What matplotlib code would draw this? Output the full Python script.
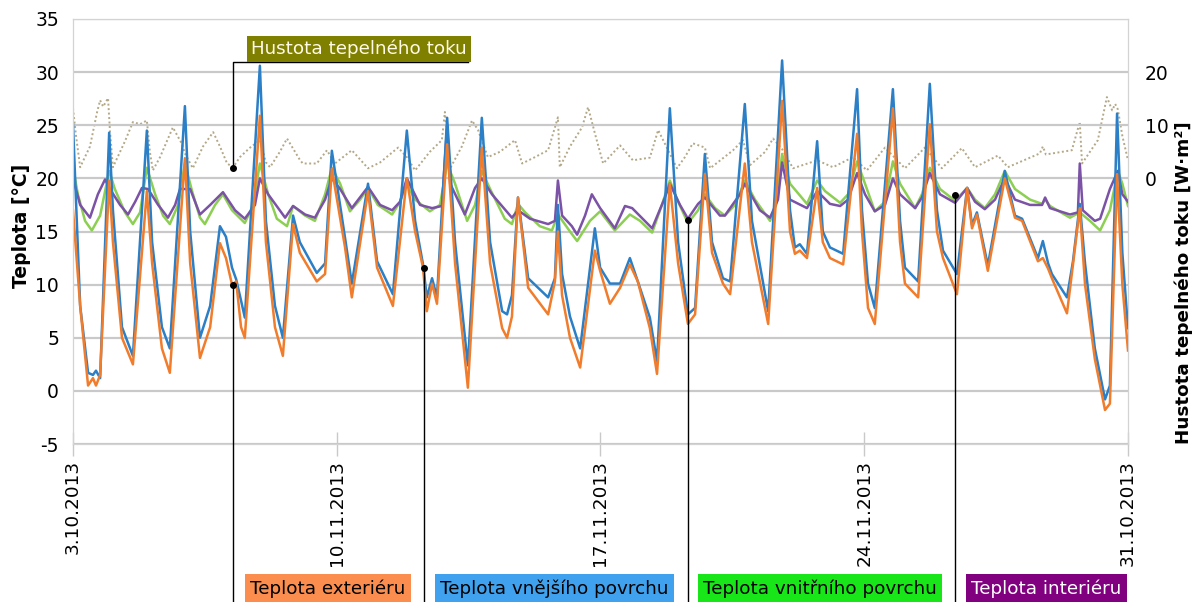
import numpy as np
import matplotlib
matplotlib.use("Agg")
import matplotlib.pyplot as plt

plt.rcParams['font.family'] = ['DejaVu Sans']
plt.rcParams['axes.unicode_minus'] = False

# time in days from 3.10.2013 (chart start)
t_out = [0.00, 0.19, 0.40, 0.53, 0.61, 0.72, 0.96, 1.06, 1.30, 1.59, 1.96, 2.10, 2.36, 2.57,
         2.97, 3.11, 3.37, 3.64, 3.90, 4.06, 4.22, 4.33, 4.46, 4.56, 4.96, 5.12, 5.36, 5.57,
         5.84, 6.02, 6.47, 6.69, 6.87, 7.22, 7.40, 7.83, 8.07, 8.49, 8.86, 9.08, 9.29, 9.39,
         9.53, 9.66, 9.93, 10.14, 10.48, 10.85, 11.07, 11.39, 11.52, 11.65, 11.81, 12.08,
         12.61, 12.79, 12.87, 12.98, 13.19, 13.46, 13.85, 13.99, 14.25, 14.52, 14.78, 14.99,
         15.31, 15.50, 15.84, 16.06, 16.32, 16.51, 16.77, 16.96, 17.25, 17.44, 17.83, 18.02,
         18.45, 18.82, 19.03, 19.16, 19.29, 19.48, 19.75, 19.90, 20.09, 20.44, 20.81, 20.94,
         21.10, 21.28, 21.76, 21.95, 22.08, 22.43, 22.74, 22.93, 23.09, 23.46, 23.73, 23.86,
         23.99, 24.28, 24.73, 25.00, 25.19, 25.61, 25.74, 25.88, 25.98, 26.38, 26.54, 26.72,
         26.86, 27.12, 27.39, 27.52, 27.71, 27.85, 28.00]

t_exterior = [17.0, 8.0, 0.5, 1.2, 0.5, 1.5, 19.8, 14.0, 5.0, 2.5, 18.8, 12.0, 4.0, 1.7,
              21.9, 12.0, 3.1, 6.0, 13.9, 12.5, 10.0, 10.3, 6.0, 5.0, 25.9, 14.0, 6.0, 3.3,
              15.7, 13.0, 10.3, 11.0, 20.9, 13.5, 8.8, 18.8, 11.6, 8.0, 20.0, 15.0, 11.6, 7.5,
              10.1, 8.2, 23.2, 12.0, 0.3, 22.9, 12.0, 5.9, 5.0, 7.0, 18.2, 9.7,
              7.2, 10.3, 15.0, 9.0, 5.0, 2.2, 13.2, 11.3, 8.2, 9.7, 11.9, 10.3,
              5.9, 1.6, 19.5, 12.0, 6.3, 7.2, 20.4, 13.0, 10.1, 9.1, 21.4, 14.0,
              6.3, 27.3, 15.0, 12.9, 13.2, 12.5, 19.1, 14.0, 12.5, 11.9, 24.2, 15.0,
              7.8, 6.3, 26.6, 14.0, 10.1, 8.8, 25.1, 15.0, 12.5, 9.1, 19.1, 15.3,
              16.6, 11.3, 20.0, 16.3, 16.0, 12.2, 12.5, 11.5, 10.6, 7.3, 11.9, 17.2,
              10.0, 3.0, -1.8, -1.2, 20.4, 10.0, 3.8]

t_outer_surface = [25.1, 8.0, 1.7, 1.5, 1.9, 1.2, 24.3, 17.0, 6.0, 3.3, 24.5, 14.0, 6.0, 4.0,
                   26.8, 15.0, 5.0, 8.0, 15.5, 14.5, 11.6, 10.5, 8.5, 6.9, 30.6, 16.0, 8.0, 5.0,
                   16.5, 14.0, 11.1, 12.0, 22.6, 14.4, 10.1, 19.5, 12.2, 9.1, 24.5, 16.0, 11.9, 8.8,
                   10.6, 8.8, 25.7, 14.0, 2.4, 25.7, 14.0, 7.5, 7.2, 9.0, 18.2, 10.6,
                   8.8, 10.6, 17.5, 11.0, 7.0, 4.0, 15.3, 11.6, 10.1, 10.1, 12.5, 10.3,
                   6.9, 2.8, 26.6, 14.0, 7.2, 7.8, 22.3, 14.0, 10.6, 10.3, 27.0, 16.0,
                   7.5, 31.1, 17.0, 13.5, 13.8, 12.9, 23.5, 15.0, 13.5, 12.9, 28.4, 17.0,
                   10.1, 7.8, 28.4, 16.0, 11.6, 10.3, 28.9, 17.0, 13.2, 11.0, 19.1, 15.6,
                   16.8, 11.8, 20.7, 16.5, 16.2, 12.5, 14.1, 12.0, 11.0, 8.8, 12.2, 17.6,
                   12.0, 4.0, -0.8, 0.5, 26.1, 13.0, 5.9]

t_in_g = [0.00, 0.13, 0.32, 0.50, 0.72, 0.96, 1.11, 1.38, 1.59, 1.78, 1.96, 2.18, 2.39, 2.57,
          2.79, 2.97, 3.16, 3.37, 3.50, 3.77, 3.98, 4.22, 4.56, 4.78, 4.96, 5.18, 5.41, 5.68,
          5.84, 6.16, 6.42, 6.69, 6.87, 7.09, 7.35, 7.62, 7.83, 8.09, 8.47, 8.68, 8.86, 9.08,
          9.47, 9.74, 9.93, 10.14, 10.46, 10.67, 10.85, 11.07, 11.46, 11.65, 11.81, 12.00,
          12.39, 12.71, 12.87, 13.19, 13.38, 13.72, 13.99, 14.38, 14.78, 15.05, 15.37, 15.63,
          15.84, 16.06, 16.32, 16.59, 16.77, 17.04, 17.30, 17.57, 17.83, 18.10, 18.50, 18.66,
          18.82, 19.03, 19.48, 19.75, 19.96, 20.36, 20.57, 20.81, 21.02, 21.28, 21.55, 21.76,
          21.95, 22.35, 22.53, 22.74, 23.01, 23.41, 23.73, 23.94, 24.20, 24.47, 24.73, 25.00,
          25.40, 25.72, 25.80, 25.93, 26.46, 26.72, 26.99, 27.26, 27.52, 27.73, 27.85, 28.00]

t_inner_surface = [21.0, 18.5, 16.0, 15.1, 16.5, 20.7, 19.0, 16.8, 15.7, 16.8, 21.0, 18.5, 16.5, 15.7,
                   17.5, 21.4, 18.8, 16.3, 15.7, 17.5, 18.5, 17.0, 15.8, 17.5, 21.4, 18.5, 16.2, 15.5,
                   17.4, 16.5, 16.0, 18.5, 21.0, 19.5, 16.9, 18.0, 19.1, 17.5, 16.6, 17.8, 19.5, 18.0,
                   16.9, 17.5, 21.4, 19.5, 16.0, 17.5, 20.7, 19.0, 16.2, 15.7, 17.6, 16.8,
                   15.5, 15.1, 16.6, 15.0, 14.1, 16.0, 16.9, 15.1, 16.6, 16.0, 14.9, 17.5,
                   19.8, 17.8, 15.8, 17.0, 18.5, 17.2, 16.5, 17.5, 19.8, 18.0, 16.0, 17.5,
                   22.3, 19.5, 17.6, 19.8, 18.8, 17.7, 18.5, 21.6, 19.5, 16.9, 17.8, 21.6,
                   19.5, 17.2, 18.5, 21.0, 19.0, 17.9, 19.1, 18.0, 17.2, 18.5, 20.7, 19.0,
                   18.0, 17.6, 18.0, 17.4, 16.3, 16.8, 16.0, 15.1, 17.0, 20.7, 19.5, 17.4]

t_in_p = [0.00, 0.19, 0.45, 0.66, 0.85, 0.98, 1.25, 1.46, 1.65, 1.83, 1.99, 2.26, 2.52, 2.71,
          2.84, 3.11, 3.37, 3.64, 3.98, 4.30, 4.56, 4.83, 4.96, 5.18, 5.63, 5.84, 6.16, 6.42,
          6.69, 6.87, 7.09, 7.40, 7.83, 8.15, 8.47, 8.68, 8.86, 9.21, 9.53, 9.79, 9.93, 10.01,
          10.40, 10.67, 10.85, 11.12, 11.65, 11.81, 12.13, 12.61, 12.79, 12.87, 12.98, 13.24,
          13.38, 13.59, 13.77, 13.99, 14.38, 14.65, 14.84, 15.37, 15.71, 15.84, 16.11, 16.32,
          16.59, 16.77, 17.17, 17.30, 17.70, 17.83, 18.23, 18.50, 18.71, 18.82, 19.03, 19.48,
          19.75, 20.09, 20.36, 20.57, 20.81, 21.02, 21.28, 21.55, 21.76, 21.95, 22.35, 22.53,
          22.74, 23.01, 23.41, 23.73, 23.94, 24.20, 24.47, 24.73, 25.00, 25.40, 25.72, 25.80,
          25.93, 26.46, 26.67, 26.72, 26.80, 27.12, 27.26, 27.52, 27.73, 27.85, 28.00]

t_interior = [20.0, 17.5, 16.3, 18.5, 19.9, 19.0, 17.5, 16.6, 17.8, 19.1, 19.0, 17.5, 16.3, 17.5,
              19.0, 19.0, 16.6, 17.5, 18.7, 17.0, 16.2, 17.5, 20.0, 18.5, 16.3, 17.4, 16.6, 16.3,
              18.0, 20.0, 19.0, 17.2, 19.2, 17.5, 17.0, 17.8, 20.0, 17.5, 17.2, 17.4, 25.0, 19.5,
              16.6, 19.1, 20.0, 18.5, 16.3, 17.0, 16.2, 15.7, 16.0, 19.8, 16.5, 15.5,
              14.7, 16.5, 18.5, 17.2, 15.3, 17.4, 17.2, 15.3, 18.2, 19.5, 17.5, 16.2,
              17.6, 18.2, 16.5, 16.5, 18.5, 19.5, 17.0, 16.3, 18.0, 21.5, 18.0, 17.2,
              18.8, 17.6, 17.4, 18.0, 20.5, 18.5, 16.9, 17.5, 20.0, 18.5, 17.2, 18.2,
              20.5, 18.5, 17.7, 19.1, 17.8, 17.1, 18.0, 20.0, 18.0, 17.5, 17.5, 18.2,
              17.2, 16.6, 16.8, 21.4, 17.0, 16.0, 16.2, 19.0, 20.7, 18.5, 17.8]

t_flux = [0.00, 0.08, 0.19, 0.45, 0.64, 0.72, 0.80, 0.93, 0.98, 1.06, 1.38, 1.59, 1.78, 1.96,
          2.04, 2.12, 2.31, 2.65, 2.89, 2.97, 3.18, 3.45, 3.72, 3.90, 4.09, 4.25, 4.43, 4.70,
          4.96, 5.12, 5.23, 5.49, 5.68, 6.02, 6.10, 6.47, 6.74, 6.95, 7.40, 7.83, 8.15, 8.63,
          8.86, 9.08, 9.47, 9.79, 9.87, 9.93, 10.01, 10.32, 10.59, 10.75, 11.01, 11.33, 11.73,
          11.92, 12.26, 12.61, 12.87, 12.92, 13.19, 13.51, 13.67, 13.85, 14.07, 14.52, 14.86,
          15.31, 15.53, 15.76, 16.03, 16.24, 16.45, 16.77, 16.91, 17.52, 17.78, 17.97, 18.37,
          18.58, 18.82, 19.11, 19.75, 20.17, 20.70, 21.07, 21.55, 22.08, 22.61, 23.06, 23.59,
          23.94, 24.55, 24.81, 25.66, 25.74, 25.82, 26.51, 26.72, 26.78, 27.20, 27.44, 27.58,
          27.66, 27.73, 27.85, 28.00]

heat_flux = [13.2, 8.0, 2.1, 6.0, 12.5, 14.7, 13.5, 15.1, 9.0, 2.1, 7.0, 10.6, 10.2, 10.9,
             5.0, 1.5, 4.0, 9.6, 6.5, 4.7, 1.9, 6.0, 8.7, 6.0, 2.8, 2.1, 4.0, 5.8,
             7.2, 3.0, 2.1, 5.0, 7.5, 3.5, 2.8, 2.8, 5.3, 2.8, 5.3, 1.9, 3.0, 5.8,
             4.0, 1.5, 5.0, 7.2, 12.5, 8.0, 1.9, 6.0, 10.9, 9.1, 4.0, 5.0, 7.2,
             2.8, 4.0, 5.3, 11.5, 2.1, 6.0, 9.6, 13.4, 8.5, 2.8, 6.2, 3.4,
             3.9, 9.1, 5.8, 1.9, 4.0, 6.6, 5.8, 1.9, 5.3, 7.2, 2.5, 5.0,
             7.5, 5.5, 1.9, 3.4, 2.1, 4.0, 1.5, 5.8, 1.9, 5.8, 1.9, 5.7,
             2.1, 4.3, 2.1, 4.7, 6.0, 4.5, 5.3, 10.6, 2.8, 7.2, 15.3, 12.8,
             14.0, 13.0, 8.0, 3.4]

tick_days = [0, 7, 14, 21, 28]
tick_labels = ["3.10.2013", "10.11.2013", "17.11.2013", "24.11.2013", "31.10.2013"]

c_ext = '#f07c2c'
c_out = '#2b7fc6'
c_in = '#8ccf52'
c_int = '#7b52a6'
c_flux = '#b3a887'

fig = plt.figure(figsize=(11.95, 6.02), dpi=100)
ax = fig.add_axes([73 / 1195, 1 - 444 / 602, 1055 / 1195, 425 / 602])
ax2 = ax.twinx()
ax.set_zorder(ax2.get_zorder() + 1)
ax.patch.set_visible(False)

ax2.plot(t_flux, heat_flux, color=c_flux, lw=1.4, linestyle=(0, (1, 1.3)))
ax.plot(t_in_g, t_inner_surface, color=c_in, lw=1.8)
ax.plot(t_in_p, t_interior, color=c_int, lw=1.8)
ax.plot(t_out, t_outer_surface, color=c_out, lw=1.8)
ax.plot(t_out, t_exterior, color=c_ext, lw=1.8)

ax.set_xlim(0, 28)
ax.set_ylim(-5, 35)
ax2.set_ylim(-50, 30)
ax.set_yticks(range(-5, 40, 5))
ax2.set_yticks([0, 10, 20])
ax.grid(axis='y', color='#c9c9c9', lw=1.6)
ax.set_axisbelow(True)
ax.set_xticks(tick_days)
ax.set_xticklabels(tick_labels, rotation=90, fontsize=13.3)
ax.tick_params(axis='x', direction='inout', length=17, width=1, color='#c9c9c9', pad=3)
ax.tick_params(axis='y', length=0, labelsize=13.5, pad=10)
ax2.tick_params(axis='y', length=0, labelsize=13.5, pad=12)
for a in (ax, ax2):
    for s in a.spines.values():
        s.set_color('#d3d3d3')

fig.text(22 / 1195, 1 - 226 / 602, "Teplota [°C]", rotation=90, fontsize=13.5, fontweight='bold',
         ha='center', va='center')
fig.text(1184 / 1195, 1 - 283 / 602, "Hustota tepelného toku [W·m²]", rotation=90, fontsize=13.2,
         fontweight='bold', ha='center', va='center')

# call-out labels
fig.text(251 / 1195, 1 - 49 / 602, "Hustota tepelného toku", fontsize=13.2, color='#fffbe6',
         ha='left', va='center',
         bbox=dict(boxstyle='square,pad=0.22', fc='#7f7f00', ec='none'))
ax.plot([4.25, 4.25, 10.48], [21.0, 31.0, 31.0], color='k', lw=1, clip_on=False, zorder=5)
ax.plot(4.25, 21.0, 'o', color='k', ms=4, clip_on=False, zorder=5)

callouts = [
    (4.25, 10.0, 250, "Teplota exteriéru", '#fb8d4f', 'k'),
    (9.32, 11.6, 440, "Teplota vnějšího povrchu", '#40a2ee', 'k'),
    (16.32, 16.1, 703, "Teplota vnitřního povrchu", '#19e619', 'k'),
    (23.41, 18.4, 971, "Teplota interiéru", '#800080', 'white'),
]
for d, temp, xpx, label, bg, fg in callouts:
    ax.plot([d, d], [temp, -20], color='k', lw=1, clip_on=False, zorder=5)
    ax.plot(d, temp, 'o', color='k', ms=4, clip_on=False, zorder=5)
    fig.text(xpx / 1195, 1 - 589 / 602, label, fontsize=13.2, color=fg, ha='left', va='center',
             bbox=dict(boxstyle='square,pad=0.3', fc=bg, ec='none'))

fig.savefig("out.png", dpi=100)
